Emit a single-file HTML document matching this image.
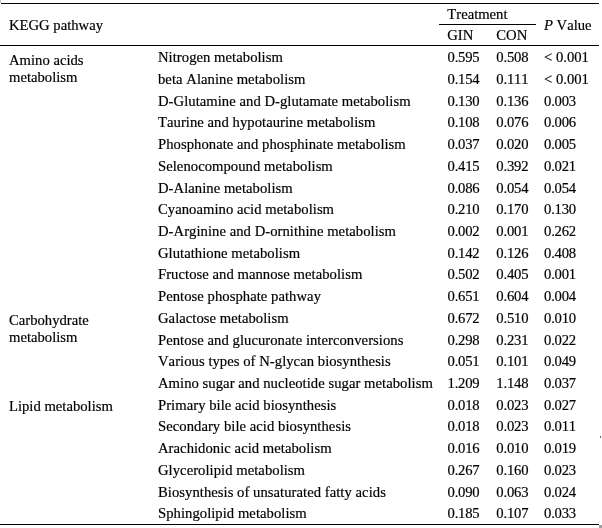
<!DOCTYPE html>
<html><head><meta charset="utf-8"><title>KEGG pathway table</title>
<style>
html,body{margin:0;padding:0;background:#fff;}
body{width:602px;height:528px;position:relative;overflow:hidden;font-family:"Liberation Serif",serif;font-size:14.67px;color:#000;-webkit-text-stroke:0.18px #000;font-kerning:none;font-variant-ligatures:none;}
.t{position:absolute;white-space:nowrap;line-height:16px;height:16px;}
.l{position:absolute;background:#000;}
</style></head><body>
<div class="l" style="left:1px;top:3px;width:598px;height:1px;background:#000"></div>
<div class="l" style="left:0px;top:45px;width:599px;height:1px;background:#000"></div>
<div class="l" style="left:439px;top:24px;width:97px;height:1px;background:#000"></div>
<div class="l" style="left:0px;top:524px;width:599px;height:1px;background:#000"></div>
<div class="l" style="left:599px;top:525px;width:3px;height:3px;background:#a0a0a0"></div>
<div class="l" style="left:0px;top:0px;width:1px;height:3px;background:#c4c4c4"></div>
<div class="l" style="left:600px;top:436px;width:1px;height:2px;background:#666"></div>
<div class="t" style="left:9px;top:17px;">KEGG pathway</div>
<div class="t" style="left:447.3px;top:6px;">Treatment</div>
<div class="t" style="left:447.2px;top:27px;">GIN</div>
<div class="t" style="left:496.3px;top:27px;">CON</div>
<div class="t" style="left:544px;top:17px;"><i>P</i> Value</div>
<div class="t" style="left:158px;top:49px;letter-spacing:0.04px;">Nitrogen metabolism</div>
<div class="t" style="left:447.5px;top:49px;letter-spacing:-0.2px;">0.595</div>
<div class="t" style="left:496.3px;top:49px;letter-spacing:-0.2px;">0.508</div>
<div class="t" style="left:544px;top:49px;">&lt; 0.001</div>
<div class="t" style="left:9px;top:51.5px;">Amino acids</div>
<div class="t" style="left:9px;top:68.5px;">metabolism</div>
<div class="t" style="left:158px;top:71px;letter-spacing:0.04px;">beta Alanine metabolism</div>
<div class="t" style="left:447.5px;top:71px;letter-spacing:-0.2px;">0.154</div>
<div class="t" style="left:496.3px;top:71px;letter-spacing:-0.2px;">0.111</div>
<div class="t" style="left:544px;top:71px;">&lt; 0.001</div>
<div class="t" style="left:158px;top:93px;letter-spacing:0.04px;">D-Glutamine and D-glutamate metabolism</div>
<div class="t" style="left:447.5px;top:93px;letter-spacing:-0.2px;">0.130</div>
<div class="t" style="left:496.3px;top:93px;letter-spacing:-0.2px;">0.136</div>
<div class="t" style="left:544px;top:93px;letter-spacing:-0.2px;">0.003</div>
<div class="t" style="left:158px;top:114px;letter-spacing:0.04px;">Taurine and hypotaurine metabolism</div>
<div class="t" style="left:447.5px;top:114px;letter-spacing:-0.2px;">0.108</div>
<div class="t" style="left:496.3px;top:114px;letter-spacing:-0.2px;">0.076</div>
<div class="t" style="left:544px;top:114px;letter-spacing:-0.2px;">0.006</div>
<div class="t" style="left:158px;top:136px;letter-spacing:0.04px;">Phosphonate and phosphinate metabolism</div>
<div class="t" style="left:447.5px;top:136px;letter-spacing:-0.2px;">0.037</div>
<div class="t" style="left:496.3px;top:136px;letter-spacing:-0.2px;">0.020</div>
<div class="t" style="left:544px;top:136px;letter-spacing:-0.2px;">0.005</div>
<div class="t" style="left:158px;top:158px;letter-spacing:0.04px;">Selenocompound metabolism</div>
<div class="t" style="left:447.5px;top:158px;letter-spacing:-0.2px;">0.415</div>
<div class="t" style="left:496.3px;top:158px;letter-spacing:-0.2px;">0.392</div>
<div class="t" style="left:544px;top:158px;letter-spacing:-0.2px;">0.021</div>
<div class="t" style="left:158px;top:180px;letter-spacing:0.04px;">D-Alanine metabolism</div>
<div class="t" style="left:447.5px;top:180px;letter-spacing:-0.2px;">0.086</div>
<div class="t" style="left:496.3px;top:180px;letter-spacing:-0.2px;">0.054</div>
<div class="t" style="left:544px;top:180px;letter-spacing:-0.2px;">0.054</div>
<div class="t" style="left:158px;top:201px;letter-spacing:0.04px;">Cyanoamino acid metabolism</div>
<div class="t" style="left:447.5px;top:201px;letter-spacing:-0.2px;">0.210</div>
<div class="t" style="left:496.3px;top:201px;letter-spacing:-0.2px;">0.170</div>
<div class="t" style="left:544px;top:201px;letter-spacing:-0.2px;">0.130</div>
<div class="t" style="left:158px;top:223px;letter-spacing:0.04px;">D-Arginine and D-ornithine metabolism</div>
<div class="t" style="left:447.5px;top:223px;letter-spacing:-0.2px;">0.002</div>
<div class="t" style="left:496.3px;top:223px;letter-spacing:-0.2px;">0.001</div>
<div class="t" style="left:544px;top:223px;letter-spacing:-0.2px;">0.262</div>
<div class="t" style="left:158px;top:245px;letter-spacing:0.04px;">Glutathione metabolism</div>
<div class="t" style="left:447.5px;top:245px;letter-spacing:-0.2px;">0.142</div>
<div class="t" style="left:496.3px;top:245px;letter-spacing:-0.2px;">0.126</div>
<div class="t" style="left:544px;top:245px;letter-spacing:-0.2px;">0.408</div>
<div class="t" style="left:158px;top:266px;letter-spacing:0.04px;">Fructose and mannose metabolism</div>
<div class="t" style="left:447.5px;top:266px;letter-spacing:-0.2px;">0.502</div>
<div class="t" style="left:496.3px;top:266px;letter-spacing:-0.2px;">0.405</div>
<div class="t" style="left:544px;top:266px;letter-spacing:-0.2px;">0.001</div>
<div class="t" style="left:158px;top:288px;letter-spacing:0.04px;">Pentose phosphate pathway</div>
<div class="t" style="left:447.5px;top:288px;letter-spacing:-0.2px;">0.651</div>
<div class="t" style="left:496.3px;top:288px;letter-spacing:-0.2px;">0.604</div>
<div class="t" style="left:544px;top:288px;letter-spacing:-0.2px;">0.004</div>
<div class="t" style="left:158px;top:310px;letter-spacing:0.04px;">Galactose metabolism</div>
<div class="t" style="left:447.5px;top:310px;letter-spacing:-0.2px;">0.672</div>
<div class="t" style="left:496.3px;top:310px;letter-spacing:-0.2px;">0.510</div>
<div class="t" style="left:544px;top:310px;letter-spacing:-0.2px;">0.010</div>
<div class="t" style="left:9px;top:311.8px;">Carbohydrate</div>
<div class="t" style="left:9px;top:328.8px;">metabolism</div>
<div class="t" style="left:158px;top:332px;letter-spacing:0.04px;">Pentose and glucuronate interconversions</div>
<div class="t" style="left:447.5px;top:332px;letter-spacing:-0.2px;">0.298</div>
<div class="t" style="left:496.3px;top:332px;letter-spacing:-0.2px;">0.231</div>
<div class="t" style="left:544px;top:332px;letter-spacing:-0.2px;">0.022</div>
<div class="t" style="left:158px;top:353px;letter-spacing:0.04px;">Various types of N-glycan biosynthesis</div>
<div class="t" style="left:447.5px;top:353px;letter-spacing:-0.2px;">0.051</div>
<div class="t" style="left:496.3px;top:353px;letter-spacing:-0.2px;">0.101</div>
<div class="t" style="left:544px;top:353px;letter-spacing:-0.2px;">0.049</div>
<div class="t" style="left:158px;top:375px;letter-spacing:0.04px;">Amino sugar and nucleotide sugar metabolism</div>
<div class="t" style="left:447.5px;top:375px;letter-spacing:-0.2px;">1.209</div>
<div class="t" style="left:496.3px;top:375px;letter-spacing:-0.2px;">1.148</div>
<div class="t" style="left:544px;top:375px;letter-spacing:-0.2px;">0.037</div>
<div class="t" style="left:158px;top:397px;letter-spacing:0.04px;">Primary bile acid biosynthesis</div>
<div class="t" style="left:447.5px;top:397px;letter-spacing:-0.2px;">0.018</div>
<div class="t" style="left:496.3px;top:397px;letter-spacing:-0.2px;">0.023</div>
<div class="t" style="left:544px;top:397px;letter-spacing:-0.2px;">0.027</div>
<div class="t" style="left:9px;top:397.5px;">Lipid metabolism</div>
<div class="t" style="left:158px;top:418px;letter-spacing:0.04px;">Secondary bile acid biosynthesis</div>
<div class="t" style="left:447.5px;top:418px;letter-spacing:-0.2px;">0.018</div>
<div class="t" style="left:496.3px;top:418px;letter-spacing:-0.2px;">0.023</div>
<div class="t" style="left:544px;top:418px;letter-spacing:-0.2px;">0.011</div>
<div class="t" style="left:158px;top:440px;letter-spacing:0.04px;">Arachidonic acid metabolism</div>
<div class="t" style="left:447.5px;top:440px;letter-spacing:-0.2px;">0.016</div>
<div class="t" style="left:496.3px;top:440px;letter-spacing:-0.2px;">0.010</div>
<div class="t" style="left:544px;top:440px;letter-spacing:-0.2px;">0.019</div>
<div class="t" style="left:158px;top:462px;letter-spacing:0.04px;">Glycerolipid metabolism</div>
<div class="t" style="left:447.5px;top:462px;letter-spacing:-0.2px;">0.267</div>
<div class="t" style="left:496.3px;top:462px;letter-spacing:-0.2px;">0.160</div>
<div class="t" style="left:544px;top:462px;letter-spacing:-0.2px;">0.023</div>
<div class="t" style="left:158px;top:484px;letter-spacing:0.04px;">Biosynthesis of unsaturated fatty acids</div>
<div class="t" style="left:447.5px;top:484px;letter-spacing:-0.2px;">0.090</div>
<div class="t" style="left:496.3px;top:484px;letter-spacing:-0.2px;">0.063</div>
<div class="t" style="left:544px;top:484px;letter-spacing:-0.2px;">0.024</div>
<div class="t" style="left:158px;top:505px;letter-spacing:0.04px;">Sphingolipid metabolism</div>
<div class="t" style="left:447.5px;top:505px;letter-spacing:-0.2px;">0.185</div>
<div class="t" style="left:496.3px;top:505px;letter-spacing:-0.2px;">0.107</div>
<div class="t" style="left:544px;top:505px;letter-spacing:-0.2px;">0.033</div>
</body></html>
